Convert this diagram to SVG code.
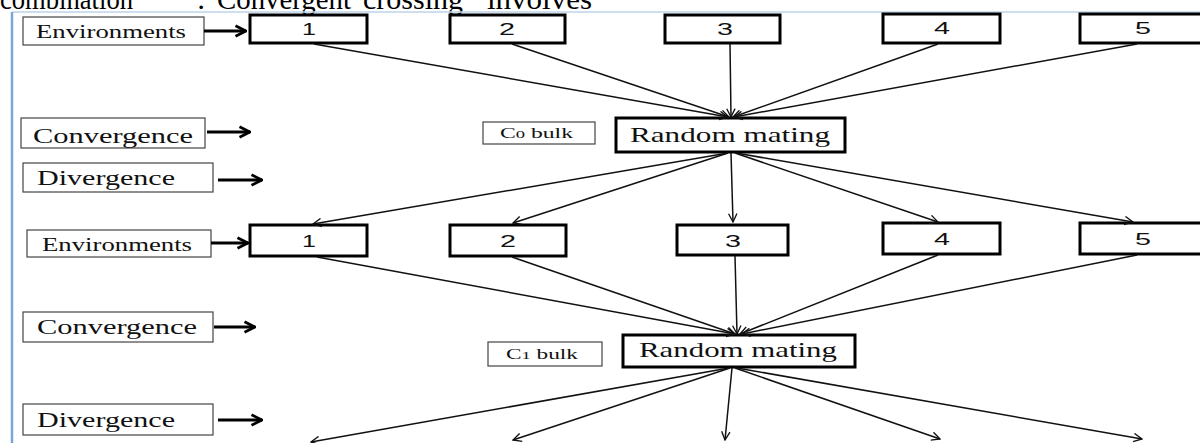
<svg xmlns="http://www.w3.org/2000/svg" width="1200" height="443" viewBox="0 0 1200 443">
<defs>
<style>
.lbl{fill:#fff;stroke:#444;stroke-width:1.2}
.env{fill:#fff;stroke:#000;stroke-width:3}
.rm{fill:#fff;stroke:#000;stroke-width:3}
.serif{font-family:"Liberation Serif","Times New Roman",serif;fill:#111}
.sans{font-family:"Liberation Sans",Arial,sans-serif;fill:#111}
.head{font-family:"Liberation Serif","Times New Roman",serif;fill:#000;font-size:30px}
.conn{stroke:#111;stroke-width:1.5;fill:none;marker-end:url(#thin)}
.side{stroke:#000;stroke-width:3;fill:none;marker-end:url(#thick)}
</style>
<marker id="thin" viewBox="0 0 12 12" refX="11" refY="6" markerWidth="10" markerHeight="10" markerUnits="userSpaceOnUse" orient="auto">
<path d="M1,1 L11,6 L1,11" fill="none" stroke="#111" stroke-width="1.6"/>
</marker>
<marker id="thick" viewBox="0 0 12 12" refX="11" refY="6" markerWidth="14" markerHeight="14" markerUnits="userSpaceOnUse" orient="auto">
<path d="M2,1.5 L11,6 L2,10.5" fill="none" stroke="#000" stroke-width="2.4"/>
</marker>
</defs>
<rect width="1200" height="443" fill="#fff"/>
<text class="head" x="0" y="9" textLength="133" lengthAdjust="spacingAndGlyphs">combination</text>
<text class="head" x="197" y="9">:</text>
<text class="head" x="217" y="9" textLength="134" lengthAdjust="spacingAndGlyphs">Convergent</text>
<text class="head" x="363" y="9" textLength="100" lengthAdjust="spacingAndGlyphs">crossing</text>
<text class="head" x="487" y="9" textLength="105" lengthAdjust="spacingAndGlyphs">involves</text>
<line x1="12" y1="12" x2="1200" y2="12" stroke="#bcd3ea" stroke-width="1.5"/>
<line x1="12" y1="12" x2="12" y2="443" stroke="#7aa6dc" stroke-width="2.5"/>

<g id="labels">
<g id="env1"><rect class="lbl" x="23" y="17" width="181" height="28"/><text class="serif" x="36" y="38" font-size="19" textLength="150" lengthAdjust="spacingAndGlyphs">Environments</text></g>
<g id="conv1"><rect class="lbl" x="21" y="118" width="184" height="30"/><text class="serif" x="33" y="143" font-size="20" textLength="160" lengthAdjust="spacingAndGlyphs">Convergence</text></g>
<g id="div1"><rect class="lbl" x="23" y="163" width="190" height="29"/><text class="serif" x="37" y="185" font-size="20" textLength="138" lengthAdjust="spacingAndGlyphs">Divergence</text></g>
<g id="env2"><rect class="lbl" x="27" y="230" width="184" height="27"/><text class="serif" x="42" y="251" font-size="19" textLength="150" lengthAdjust="spacingAndGlyphs">Environments</text></g>
<g id="conv2"><rect class="lbl" x="23" y="312" width="190" height="30"/><text class="serif" x="37" y="334" font-size="20" textLength="160" lengthAdjust="spacingAndGlyphs">Convergence</text></g>
<g id="div2"><rect class="lbl" x="23" y="404" width="190" height="31"/><text class="serif" x="37" y="427" font-size="20" textLength="138" lengthAdjust="spacingAndGlyphs">Divergence</text></g>
<g id="c0bulk"><rect class="lbl" x="483" y="122" width="112" height="22"/><text class="serif" x="500" y="138" font-size="14" textLength="73" lengthAdjust="spacingAndGlyphs">C<tspan font-size="11">0</tspan> bulk</text></g>
<g id="c1bulk"><rect class="lbl" x="488" y="342" width="114" height="24"/><text class="serif" x="506" y="359" font-size="14" textLength="72" lengthAdjust="spacingAndGlyphs">C<tspan font-size="11">1</tspan> bulk</text></g>
</g>

<g id="row1">
<g id="r1n1"><rect class="env" x="250" y="15" width="117" height="28"/><text class="sans" x="302" y="35" font-size="17" textLength="14" lengthAdjust="spacingAndGlyphs">1</text></g>
<g id="r1n2"><rect class="env" x="450" y="15" width="115" height="28"/><text class="sans" x="499" y="35" font-size="17" textLength="16" lengthAdjust="spacingAndGlyphs">2</text></g>
<g id="r1n3"><rect class="env" x="665" y="15" width="115" height="28"/><text class="sans" x="717" y="35" font-size="17" textLength="16" lengthAdjust="spacingAndGlyphs">3</text></g>
<g id="r1n4"><rect class="env" x="883" y="14" width="117" height="29"/><text class="sans" x="934" y="34" font-size="17" textLength="16" lengthAdjust="spacingAndGlyphs">4</text></g>
<g id="r1n5"><rect class="env" x="1080" y="14" width="125" height="29"/><text class="sans" x="1135" y="34" font-size="17" textLength="16" lengthAdjust="spacingAndGlyphs">5</text></g>
</g>
<g id="rm1"><rect class="rm" x="616" y="118" width="229" height="34"/><text class="serif" x="630" y="142" font-size="21" textLength="200" lengthAdjust="spacingAndGlyphs">Random mating</text></g>

<g id="row2">
<g id="r2n1"><rect class="env" x="250" y="225" width="117" height="31"/><text class="sans" x="302" y="247" font-size="17" textLength="14" lengthAdjust="spacingAndGlyphs">1</text></g>
<g id="r2n2"><rect class="env" x="450" y="225" width="116" height="31"/><text class="sans" x="500" y="247" font-size="17" textLength="16" lengthAdjust="spacingAndGlyphs">2</text></g>
<g id="r2n3"><rect class="env" x="677" y="225" width="111" height="30"/><text class="sans" x="725" y="247" font-size="17" textLength="16" lengthAdjust="spacingAndGlyphs">3</text></g>
<g id="r2n4"><rect class="env" x="883" y="223" width="117" height="31"/><text class="sans" x="934" y="245" font-size="17" textLength="16" lengthAdjust="spacingAndGlyphs">4</text></g>
<g id="r2n5"><rect class="env" x="1080" y="223" width="125" height="31"/><text class="sans" x="1135" y="245" font-size="17" textLength="16" lengthAdjust="spacingAndGlyphs">5</text></g>
</g>
<g id="rm2"><rect class="rm" x="623" y="335" width="232" height="32"/><text class="serif" x="639" y="357" font-size="21" textLength="198" lengthAdjust="spacingAndGlyphs">Random mating</text></g>

<g id="connectors">
<line class="side" x1="204" y1="31" x2="246" y2="31"/>
<line class="side" x1="207" y1="132" x2="250" y2="132"/>
<line class="side" x1="218" y1="180" x2="262" y2="180"/>
<line class="side" x1="211" y1="243" x2="248" y2="243"/>
<line class="side" x1="214" y1="327" x2="255" y2="327"/>
<line class="side" x1="218" y1="420" x2="262" y2="420"/>

<line class="conn" x1="314" y1="44" x2="728" y2="117"/>
<line class="conn" x1="512" y1="44" x2="729" y2="117"/>
<line class="conn" x1="730" y1="44" x2="731" y2="117"/>
<line class="conn" x1="938" y1="44" x2="733" y2="117"/>
<line class="conn" x1="1137" y1="44" x2="734" y2="117"/>

<line class="conn" x1="728" y1="153" x2="313" y2="224"/>
<line class="conn" x1="728" y1="153" x2="513" y2="223"/>
<line class="conn" x1="731" y1="153" x2="733" y2="222"/>
<line class="conn" x1="735" y1="153" x2="938" y2="222"/>
<line class="conn" x1="736" y1="153" x2="1133" y2="222"/>

<line class="conn" x1="317" y1="257" x2="735" y2="334"/>
<line class="conn" x1="512" y1="257" x2="735" y2="334"/>
<line class="conn" x1="735" y1="256" x2="737" y2="334"/>
<line class="conn" x1="938" y1="255" x2="740" y2="334"/>
<line class="conn" x1="1137" y1="255" x2="742" y2="334"/>

<line class="conn" x1="729" y1="368" x2="311" y2="442"/>
<line class="conn" x1="730" y1="368" x2="513" y2="440"/>
<line class="conn" x1="732" y1="368" x2="725" y2="440"/>
<line class="conn" x1="735" y1="368" x2="940" y2="439"/>
<line class="conn" x1="737" y1="368" x2="1142" y2="439"/>
</g>
</svg>
